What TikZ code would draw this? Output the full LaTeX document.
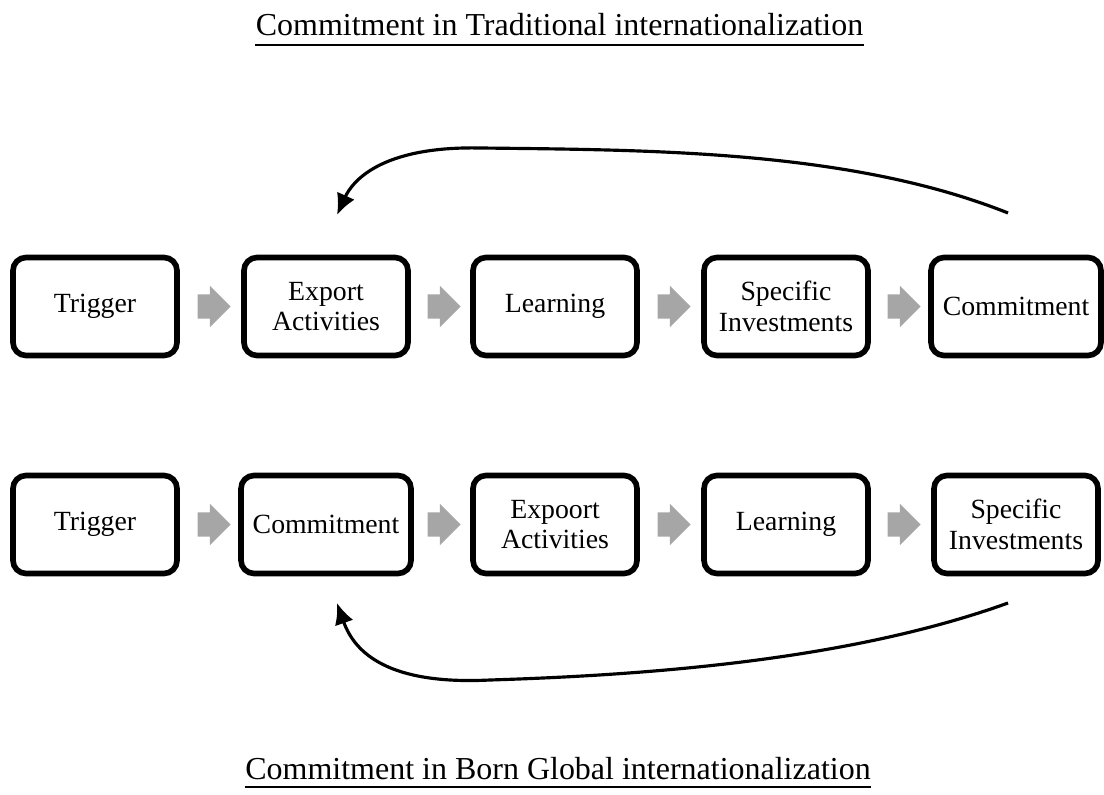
\documentclass[tikz,border=0pt]{standalone}
\usepackage{fontspec}
\setmainfont{Liberation Serif}
\usetikzlibrary{arrows.meta, shapes.arrows}
\definecolor{arrowgray}{RGB}{166,166,166}
\tikzset{
  stage/.style={draw, line width=1.6pt, rounded corners=0.13cm, minimum width=1.64cm, minimum height=0.98cm, align=center, font=\fontsize{7.9}{8.7}\selectfont},
  garrow/.style={single arrow, fill=arrowgray, inner xsep=0, inner ysep=0.115cm, minimum height=0.33cm, single arrow head extend=0.085cm, single arrow head indent=0},
  heading/.style={inner sep=0, anchor=base, font=\fontsize{9.1}{10}\selectfont}
}
\begin{document}
\begin{tikzpicture}
\useasboundingbox (0,0) rectangle (11.04,7.94);
\node[heading] (title1) at (5.595,7.58) {Commitment in Traditional internationalization};
\node[heading] (title2) at (5.58,0.15) {Commitment in Born Global internationalization};
\node[stage] (a1) at (0.95,4.875) {Trigger};
\node[stage] (a2) at (3.26,4.875) {Export\\Activities};
\node[stage] (a3) at (5.55,4.875) {Learning};
\node[stage] (a4) at (7.86,4.875) {Specific\\Investments};
\node[stage] (a5) at (10.16,4.875) {Commitment};
\node[stage] (b1) at (0.95,2.695) {Trigger};
\node[stage] (b2) at (3.26,2.695) {Commitment};
\node[stage] (b3) at (5.55,2.695) {Expoort\\Activities};
\node[stage] (b4) at (7.86,2.695) {Learning};
\node[stage] (b5) at (10.16,2.695) {Specific\\Investments};
\node[garrow] (ga1) at (2.08,4.875) {};
\node[garrow] (ga2) at (4.38,4.875) {};
\node[garrow] (ga3) at (6.68,4.875) {};
\node[garrow] (ga4) at (8.98,4.875) {};
\node[garrow] (gb1) at (2.08,2.695) {};
\node[garrow] (gb2) at (4.38,2.695) {};
\node[garrow] (gb3) at (6.68,2.695) {};
\node[garrow] (gb4) at (8.98,2.695) {};
\coordinate (s1) at (10.08,5.81);
\coordinate (e1) at (3.37,5.79);
\coordinate (s2) at (10.08,1.91);
\coordinate (e2) at (3.37,1.91);
% Underlines
\draw[line width=0.7pt] ([yshift=-0.09cm]title1.base west) -- ([yshift=-0.09cm]title1.base east);
\draw[line width=0.7pt] ([yshift=-0.08cm]title2.base west) -- ([yshift=-0.08cm]title2.base east);
% Feedback arrows
\draw[->, line width=0.9pt, >={Latex[length=6pt,width=5.5pt]}] (s1) .. controls (8.50,6.44) and (6.50,6.44) .. (4.80,6.46) .. controls (3.80,6.48) and (3.52,6.12) .. (e1);
\draw[->, line width=0.9pt, >={Latex[length=6pt,width=5.5pt]}] (s2) .. controls (8.50,1.34) and (6.50,1.19) .. (4.90,1.14) .. controls (3.90,1.09) and (3.55,1.40) .. (e2);
\end{tikzpicture}
\end{document}
